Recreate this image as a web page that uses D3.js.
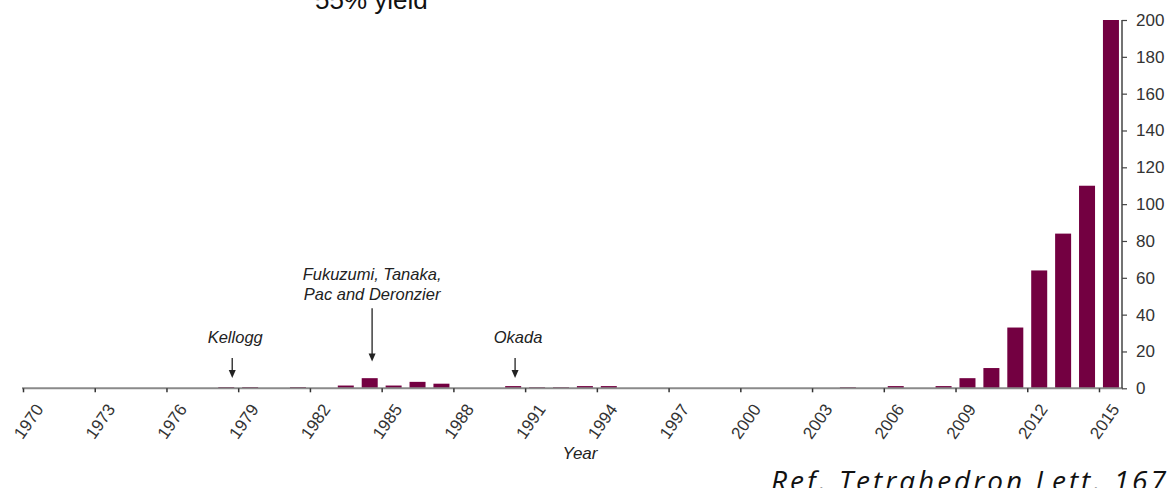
<!DOCTYPE html>
<html>
<head>
<meta charset="utf-8">
<script src="https://cdn.jsdelivr.net/npm/d3@7"></script>
<style>
  html, body { margin: 0; padding: 0; background: #fff; overflow: hidden; }
  svg { display: block; }
</style>
</head>
<body>
<svg id="chart" width="1167" height="488"></svg>
<script>
// ---- data ----
const years = d3.range(1970, 2016);
const counts = [
  0, 0, 0, 0, 0, 0, 0, 0, 0.7, 0.7,      // 1970-1979
  0, 0.7, 0, 1.5, 5.5, 1.5, 3.5, 2.5, 0, 0, // 1980-1989
  1.2, 0.6, 0.6, 1.2, 1.2, 0, 0, 0, 0, 0,   // 1990-1999
  0, 0, 0, 0, 0.6, 0, 1.2, 0, 1.2, 5.5,     // 2000-2009
  11, 33, 64, 84, 110, 200                  // 2010-2015
];
const xTickYears = d3.range(1970, 2016, 3);
const yTickValues = d3.range(0, 201, 20);
const annotationLabels = [["Kellogg"], ["Fukuzumi, Tanaka,", "Pac and Deronzier"], ["Okada"]];
const annotationYears = [1978.75, 1984.6, 1990.58];
const annotationTops = [16.5, 43.5, 16.5];   // arrow start (in y units)
const annotationTips = [5.6, 14.6, 5.6];     // arrow tip (in y units)
const topNote = "55% yield";
const refNote = "Ref. Tetrahedron Lett. 167";
const xTitle = "Year";

// ---- layout ----
const svg = d3.select("#chart");
const x = d3.scaleLinear().domain([1970, 2016]).range([23, 1122.9]);
const y = d3.scaleLinear().domain([0, 200]).range([388.3, 20]);
const barColor = "#730041";
const font = "'Liberation Sans', Arial, Helvetica, sans-serif";

// bars
svg.append("g").selectAll("rect")
  .data(years.map((yr, i) => ({ yr, v: counts[i] })).filter(d => d.v > 0))
  .join("rect")
  .attr("x", d => x(d.yr + 0.5) - 8)
  .attr("width", 16)
  .attr("y", d => y(d.v))
  .attr("height", d => y(0) - y(d.v))
  .attr("fill", barColor);

// x axis
const xAxis = d3.axisBottom(x).tickValues(xTickYears).tickSize(4).tickFormat(d3.format("d"));
const gx = svg.append("g").attr("transform", `translate(0,${y(0)})`).call(xAxis);
gx.select(".domain").attr("stroke", "#8a8a8a").attr("stroke-width", 2).attr("d", `M22,0H${x(2016)}`);
gx.selectAll(".tick line").attr("stroke", "#333").attr("stroke-width", 1.5);
gx.selectAll(".tick text")
  .attr("font-family", font).attr("font-size", 17).attr("fill", "#333")
  .attr("text-anchor", "middle")
  .attr("dy", "0.35em").attr("y", null)
  .attr("transform", "translate(5,33) rotate(-55)");

// y axis (right)
const yAxis = d3.axisRight(y).tickValues(yTickValues).tickSize(5).tickPadding(9);
const gy = svg.append("g").attr("transform", `translate(${x(2016) - 0.9},0)`).call(yAxis);
gy.select(".domain").attr("stroke", "#444").attr("stroke-width", 1.5).attr("d", `M0,${y(200)}V${y(0)}`);
gy.selectAll(".tick line").attr("stroke", "#444").attr("stroke-width", 1.2);
gy.selectAll(".tick text").attr("font-family", font).attr("font-size", 17).attr("fill", "#333");

// annotations
const ann = svg.append("g");
annotationLabels.forEach((lines, i) => {
  const ax = x(annotationYears[i]);
  const yTop = y(annotationTops[i]);
  const yTip = y(annotationTips[i]);
  ann.append("line")
    .attr("x1", ax).attr("x2", ax).attr("y1", yTop).attr("y2", yTip - 6)
    .attr("stroke", "#222").attr("stroke-width", 1.3);
  ann.append("path")
    .attr("d", `M${ax - 3.5},${yTip - 8}L${ax + 3.5},${yTip - 8}L${ax},${yTip}Z`)
    .attr("fill", "#222");
  const n = lines.length;
  lines.forEach((t, j) => {
    ann.append("text")
      .attr("x", ax + (n === 1 ? 3 : 0))
      .attr("y", n === 1 ? yTop - 15 : yTop - 8 - (n - 1 - j) * 20)
      .attr("text-anchor", "middle")
      .attr("font-family", font).attr("font-style", "italic")
      .attr("font-size", 16.5).attr("fill", "#222")
      .text(t);
  });
});

// axis title
svg.append("text")
  .attr("x", 580).attr("y", 459)
  .attr("text-anchor", "middle")
  .attr("font-family", font).attr("font-style", "italic")
  .attr("font-size", 17).attr("fill", "#222")
  .text(xTitle);

// top cropped note
svg.append("text")
  .attr("x", 315).attr("y", 9)
  .attr("font-family", font).attr("font-size", 26).attr("fill", "#111")
  .text(topNote);

// bottom cropped reference
svg.append("text")
  .attr("x", 771).attr("y", 491)
  .attr("font-family", "'Open Sans', 'Noto Sans', sans-serif").attr("font-style", "italic")
  .attr("font-size", 28).attr("fill", "#111")
  .attr("letter-spacing", 3)
  .text(refNote);
</script>
</body>
</html>
